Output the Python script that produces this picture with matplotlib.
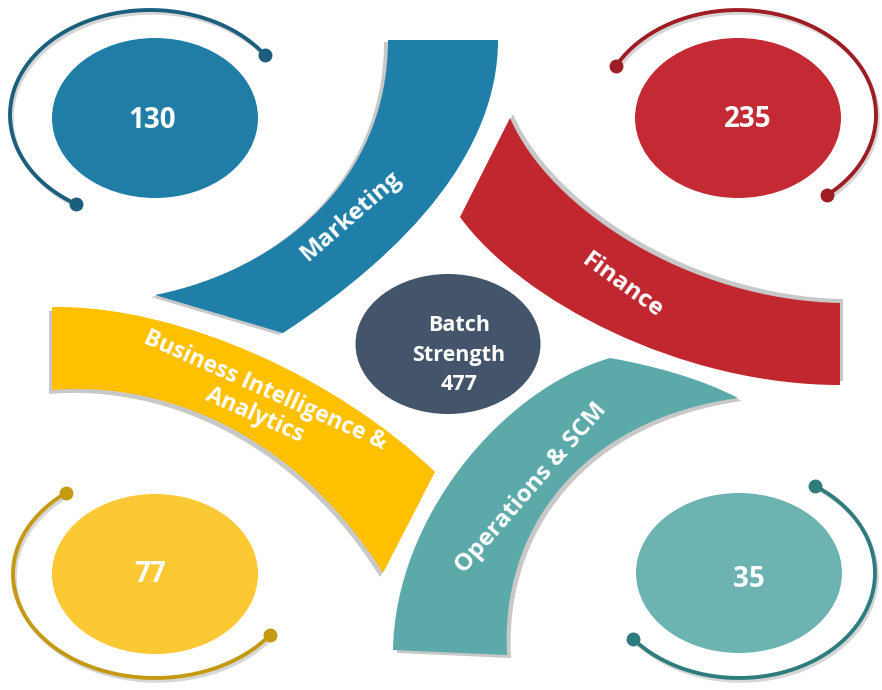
import matplotlib
matplotlib.use("Agg")
import numpy as np
import matplotlib.pyplot as plt
from matplotlib.patches import Ellipse, PathPatch
from matplotlib.path import Path

# data
departments = ["Marketing", "Finance", "Business Intelligence &\nAnalytics", "Operations & SCM"]
students = [130, 235, 77, 35]
band_colors = ["#1F7FA8", "#C1272F", "#FFC000", "#5BA9A8"]
bubble_colors = ["#1F7DA6", "#C42A33", "#FCC833", "#6CB3B2"]
ring_colors = ["#1B5F7D", "#9E1D25", "#C39A12", "#2E7C7D"]
batch_strength = sum(students)

plt.rcParams["font.family"] = ["Open Sans", "DejaVu Sans"]

fig = plt.figure(figsize=(8.82, 6.9), dpi=100)
ax = fig.add_axes([0, 0, 1, 1])
ax.set_xlim(0, 882)
ax.set_ylim(690, 0)
ax.axis("off")


def make_path(start, segs):
    verts = [start]
    codes = [Path.MOVETO]
    for s in segs:
        if len(s) == 1:
            verts.append(s[0])
            codes.append(Path.LINETO)
        else:
            verts += list(s)
            codes += [Path.CURVE4] * 3
    verts.append(start)
    codes.append(Path.CLOSEPOLY)
    return Path(verts, codes)


# curved bands (pixel layout)
bands = [
    ((388, 40), [((498, 40),), ((498, 150), (410, 250), (283, 333)), ((155, 295),),
                 ((280, 270), (388, 180), (388, 40))]),
    ((510, 118), [((550, 210), (690, 300), (840, 303)), ((840, 385),),
                  ((680, 385), (520, 300), (460, 217))]),
    ((52, 307), [((180, 305), (340, 380), (435, 472)), ((383, 573),),
                 ((300, 440), (170, 380), (52, 390))]),
    ((610, 358), [((650, 365), (700, 378), (738, 398)), ((580, 420), (500, 530), (507, 655)),
                  ((393, 650),), ((395, 520), (500, 390), (610, 358))]),
]
shadow_off = [(-4, 2), (3, -4), (-3, 4), (4, 3)]

for (start, segs), col, (dx, dy) in zip(bands, band_colors, shadow_off):
    p = make_path(start, segs)
    sh = Path(p.vertices + np.array([dx, dy]), p.codes)
    ax.add_patch(PathPatch(sh, facecolor="#9c9c9c", edgecolor="none", alpha=0.55, zorder=1))
    ax.add_patch(PathPatch(p, facecolor=col, edgecolor="none", zorder=2))

# bubbles with rings
bubble_xy = [(155, 118), (738, 118), (155, 574), (739, 573)]
ring_geom = [((150, 115), 140, 105, 35, 238),
             ((738, 115), 138, 105, -50, 152),
             ((155, 574), 142, 104, 129, 324),
             ((739, 573), 136, 105, 219, 416)]
value_xy = [(152, 128), (748, 127), (150, 582), (749, 587)]

for xy, col, rc, (c, a, b, t0, t1), vxy, val in zip(bubble_xy, bubble_colors, ring_colors,
                                                     ring_geom, value_xy, students):
    ax.add_patch(Ellipse(xy, 206, 160, facecolor=col, edgecolor="none", zorder=3))
    t = np.radians(np.linspace(t0, t1, 200))
    x = c[0] + a * np.cos(t)
    y = c[1] - b * np.sin(t)
    ax.plot(x + 2, y + 3, color="#bbbbbb", lw=2.5, alpha=0.6, zorder=2, solid_capstyle="round")
    ax.plot(x, y, color=rc, lw=2.8, zorder=3, solid_capstyle="round")
    ax.plot([x[0], x[-1]], [y[0], y[-1]], "o", color=rc, ms=9, zorder=4)
    ax.text(vxy[0], vxy[1], str(val), color="white", fontsize=20, fontweight="bold",
            ha="center", va="baseline", zorder=5)

# centre
ax.add_patch(Ellipse((448, 344), 185, 140, facecolor="#44546A", edgecolor="none", zorder=3))
ax.text(459, 355, f"Batch\nStrength\n{batch_strength}", color="white", fontsize=15.5,
        fontweight="bold", ha="center", va="center", linespacing=1.55, zorder=5)

# band labels
lab = dict(color="white", fontsize=17.5, fontweight="bold", ha="center", va="center",
           rotation_mode="anchor", zorder=5)
ax.text(351, 216, departments[0], rotation=41, **lab)
ax.text(622, 286, departments[1], rotation=-36, **lab)
ax.text(531, 488, departments[3], rotation=49, **lab)
ax.text(260, 403, departments[2], rotation=-24, linespacing=1.15,
        multialignment="center", **dict(lab, fontsize=16.5))

fig.savefig("out.png", dpi=100)
